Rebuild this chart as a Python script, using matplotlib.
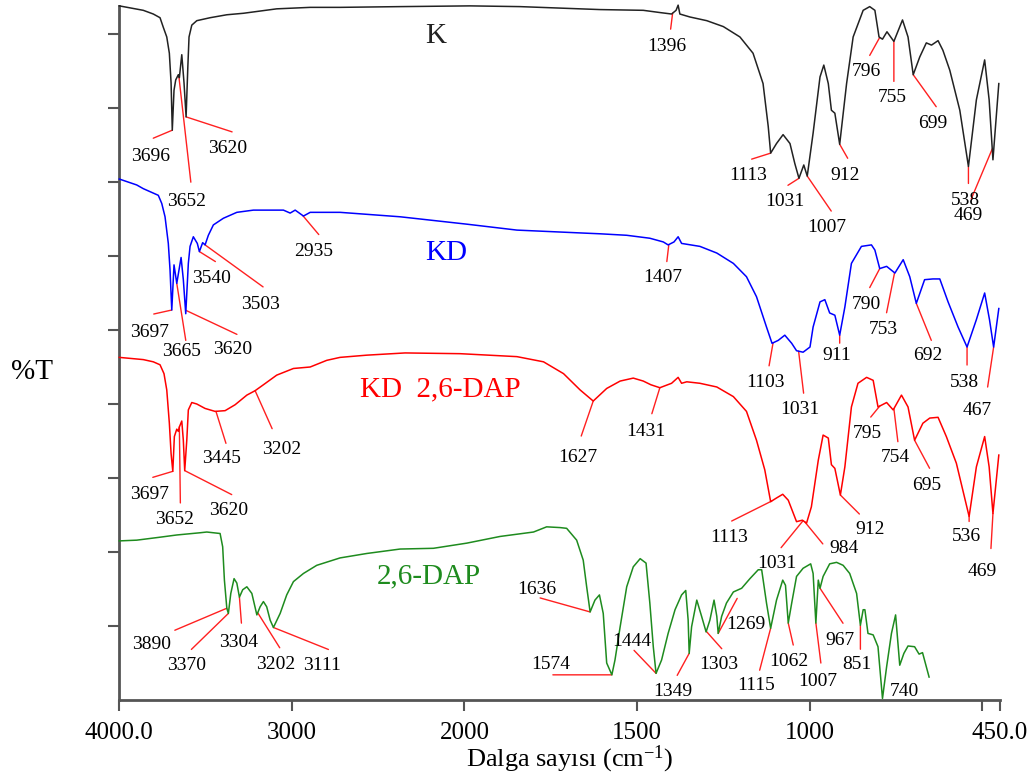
import numpy as np
import matplotlib
matplotlib.use('Agg')
import matplotlib.pyplot as plt

plt.rcParams['font.family'] = ['Liberation Serif', 'DejaVu Serif']
plt.rcParams['mathtext.fontset'] = 'custom'
plt.rcParams['mathtext.rm'] = 'Liberation Serif'
plt.rcParams['mathtext.it'] = 'Liberation Serif:italic'

# ---------------- data (wavenumber cm-1, %T with vertical offsets) ----------------
K_wn = [4000, 3861, 3803, 3764, 3745, 3725, 3710, 3700, 3693, 3683, 3673, 3658, 3652, 3638,
        3625, 3613, 3603, 3596, 3580, 3551, 3474, 3377, 3281, 3088, 2894, 2721, 2373, 1984,
        1839, 1723, 1607, 1482, 1434, 1400, 1387, 1381, 1376, 1347, 1298, 1250, 1202, 1164,
        1135, 1120, 1113, 1096, 1077, 1057, 1043, 1031, 1017, 1007, 990, 970, 959, 946, 937,
        927, 913, 893, 874, 845, 826, 811, 799, 789, 776, 756, 731, 715, 700, 681, 662, 647,
        628, 614, 594, 565, 540, 517, 493, 480, 469, 452]
K_T = [93.8, 93.2, 92.7, 92.2, 90.9, 89.6, 87.4, 83.4, 77.0, 82.4, 83.8, 84.5, 84.1, 87.2,
       83.4, 78.8, 85.5, 89.6, 91.2, 91.8, 92.2, 92.6, 92.8, 93.4, 93.6, 93.6, 93.7, 93.8,
       93.7, 93.5, 93.3, 93.2, 92.9, 92.7, 93.2, 93.9, 92.7, 92.3, 91.8, 91.0, 89.6, 87.4,
       83.3, 77.5, 73.9, 75.2, 76.4, 75.2, 72.5, 70.5, 72.3, 70.8, 76.6, 84.2, 85.8, 83.3, 79.7,
       79.3, 75.1, 83.3, 89.6, 93.2, 93.7, 93.2, 89.6, 89.3, 90.3, 89.0, 91.9, 89.6, 84.5, 86.9,
       88.8, 88.5, 89.1, 87.8, 85.1, 79.7, 72.1, 81.1, 86.5, 81.1, 73.0, 83.3]

KD_wn = [4000, 3899, 3861, 3803, 3774, 3754, 3735, 3716, 3706, 3696, 3683, 3667, 3642, 3629,
         3615, 3600, 3590, 3571, 3548, 3536, 3517, 3503, 3484, 3455, 3397, 3319, 3223, 3049,
         3010, 2981, 2933, 2894, 2721, 2373, 1993, 1848, 1656, 1607, 1530, 1463, 1424, 1410,
         1393, 1381, 1371, 1318, 1269, 1221, 1183, 1154, 1125, 1109, 1091, 1072, 1052, 1038,
         1019, 999, 990, 970, 956, 942, 927, 913, 898, 879, 850, 821, 811, 797, 777, 753, 729,
         710, 691, 667, 643, 623, 599, 570, 544, 517, 493, 479, 467, 452]
KD_T = [70.4, 69.6, 69.1, 68.5, 68.2, 67.1, 65.3, 61.7, 58.1, 52.7, 58.8, 56.3, 59.8, 56.8,
        52.2, 59.0, 61.3, 62.6, 61.7, 60.6, 61.8, 61.5, 62.8, 64.2, 65.1, 65.9, 66.2, 66.2,
        65.8, 66.2, 65.4, 65.9, 65.9, 65.3, 64.3, 63.5, 63.1, 63.0, 62.8, 62.4, 61.9, 61.5,
        61.9, 62.6, 61.7, 61.3, 60.4, 59.0, 57.2, 54.5, 50.4, 48.2, 48.6, 49.3, 48.2, 47.2,
        47.0, 47.7, 50.4, 53.8, 54.1, 52.3, 52.0, 49.3, 53.1, 59.0, 61.3, 61.5, 60.8, 58.3,
        58.6, 57.7, 59.5, 57.2, 53.6, 56.8, 56.9, 56.9, 53.8, 50.4, 47.7, 51.4, 55.0, 51.4,
        47.7, 52.9]

KDDAP_wn = [4000, 3861, 3803, 3764, 3741, 3725, 3710, 3700, 3690, 3681, 3667, 3658, 3652, 3638,
            3629, 3621, 3609, 3600, 3580, 3551, 3503, 3445, 3387, 3329, 3261, 3213, 3165, 3088,
            2991, 2894, 2798, 2721, 2566, 2344, 2025, 1848, 1771, 1713, 1665, 1627, 1588, 1549,
            1511, 1482, 1460, 1434, 1400, 1381, 1371, 1356, 1318, 1269, 1221, 1183, 1154, 1130,
            1113, 1096, 1078, 1062, 1038, 1021, 1009, 995, 975, 961, 946, 937, 927, 911, 898,
            879, 860, 835, 816, 802, 777, 758, 734, 715, 696, 672, 652, 628, 604, 575, 538, 517,
            493, 480, 469, 452]
KDDAP_T = [46.3, 46.0, 45.7, 45.3, 44.1, 41.9, 37.4, 33.3, 30.9, 35.6, 36.6, 36.3, 36.9, 37.7,
           35.1, 31.0, 35.1, 39.2, 40.2, 40.0, 39.4, 39.0, 39.1, 39.9, 41.2, 41.8, 42.6, 43.9,
           44.8, 45.0, 45.9, 46.3, 46.6, 46.9, 46.8, 46.4, 45.7, 44.1, 41.9, 40.4, 42.1, 43.1,
           43.5, 43.1, 42.6, 42.2, 42.8, 43.6, 42.8, 43.0, 42.8, 42.3, 41.0, 39.0, 35.1, 31.1,
           26.8, 27.3, 27.8, 27.0, 24.1, 24.3, 23.9, 26.1, 32.4, 35.8, 35.4, 31.8, 31.3, 27.7,
           31.5, 39.6, 42.8, 43.6, 43.2, 39.6, 40.2, 39.2, 41.2, 39.6, 35.1, 37.4, 38.1, 38.2,
           35.6, 32.0, 24.8, 31.5, 35.6, 31.5, 25.2, 33.1]

DAP_wn = [4000, 3899, 3764, 3667, 3532, 3493, 3416, 3401, 3391, 3377, 3368, 3354, 3335, 3319,
          3304, 3285, 3261, 3232, 3203, 3184, 3165, 3146, 3126, 3107, 3068, 3030, 2991, 2933,
          2856, 2721, 2566, 2373, 2180, 1993, 1897, 1800, 1762, 1723, 1704, 1675, 1656, 1646,
          1636, 1622, 1609, 1598, 1588, 1573, 1564, 1549, 1530, 1511, 1491, 1474, 1463, 1453,
          1445, 1429, 1410, 1390, 1371, 1359, 1352, 1349, 1342, 1327, 1313, 1300, 1289, 1277,
          1269, 1265, 1255, 1241, 1221, 1197, 1173, 1149, 1139, 1125, 1113, 1096, 1078, 1070,
          1062, 1052, 1038, 1019, 997, 990, 982, 975, 970, 961, 942, 922, 903, 884, 864, 853,
          845, 840, 831, 816, 802, 789, 777, 763, 751, 739, 727, 715, 696, 683, 673, 654]
DAP_T = [21.5, 21.6, 22.0, 22.3, 22.6, 22.7, 22.5, 20.7, 16.2, 12.4, 11.7, 14.4, 16.4, 15.8,
         13.9, 14.9, 15.3, 14.4, 11.5, 12.6, 13.3, 12.6, 10.8, 9.8, 11.7, 14.2, 16.0, 17.1,
         18.2, 19.2, 19.8, 20.4, 20.5, 21.2, 22.1, 22.7, 23.4, 23.3, 23.2, 21.6, 18.9, 15.3,
         11.9, 13.5, 14.2, 11.7, 5.0, 3.4, 5.4, 9.9, 15.3, 18.0, 19.1, 18.5, 13.1, 7.2,
         3.6, 5.4, 9.0, 12.2, 14.2, 14.8, 10.8, 6.3, 9.9, 13.5, 11.3, 9.2, 10.8, 13.5,
         11.3, 9.0, 11.3, 13.1, 14.6, 15.1, 16.4, 17.6, 17.6, 13.1, 9.7, 13.5, 16.2, 15.5,
         10.4, 13.1, 16.7, 17.8, 18.4, 17.1, 10.4, 16.2, 15.1, 16.7, 18.4, 18.6, 18.2, 17.1, 14.4, 10.1,
         12.2, 12.2, 9.0, 8.8, 7.2, 0.2, 4.5, 9.0, 11.5, 4.7, 6.3, 7.3, 7.2, 6.2, 6.4, 3.1]

series_names = ['K', 'KD', 'KD  2,6-DAP', '2,6-DAP']
series_colors = ['#222222', '#0000FF', '#FF0000', '#1E8B1E']

# peak labels: (text, wavenumber on the curve)
K_peaks = ['3696', '3652', '3620', '1396', '1113', '1031', '1007', '912', '796', '755', '699', '538', '469']
K_peak_wn = [3693, 3655, 3613, 1397, 1113, 1031, 1007, 913, 797, 756, 700, 540, 471]
KD_peaks = ['3697', '3665', '3620', '3540', '3503', '2935', '1407', '1103', '1031', '911', '790', '753', '692', '538', '467']
KD_peak_wn = [3696, 3667, 3614, 3536, 3503, 2937, 1408, 1106, 1032, 913, 797, 754, 691, 544, 467]
KDDAP_peaks = ['3697', '3652', '3620', '3445', '3202', '1627', '1431', '1113', '1031', '984', '912', '795', '754', '695', '536', '469']
KDDAP_peak_wn = [3690, 3652, 3621, 3440, 3213, 1627, 1434, 1110, 1019, 1014, 911, 797, 756, 696, 538, 469]
DAP_peaks = ['3890', '3370', '3304', '3202', '3111', '1636', '1574', '1444', '1349', '1303', '1269', '1115', '1062', '1007', '967', '851', '740']
DAP_peak_wn = [3377, 3368, 3304, 3198, 3107, 1636, 1573, 1445, 1349, 1301, 1265, 1113, 1062, 982, 970, 853, 789]

# ---------------- layout of the labels (pixel offsets: leader end, text centre) ----------------
K_lay = [(-19, -8, -22, -26), (12, -106, 8, -125), (46, -15, 42, -32), (-2, -16, -6, -33),
         (-19, -6, -22, -22), (-11, -7, -14, -23), (24, -35, 20, -51), (8, -14, 5, -31),
         (-10, -18, -13, -34), (0, -40, -2, -56), (23, -32, 20, -49), (0, -17, -3, -34),
         (-21, -50, -24, -67)]
KD_lay = [(-18, -4, -22, -22), (9, -57, 5, -68), (51, -24, 47, -39), (16, -10, 12, -27),
          (58, -42, 55, -60), (16, -19, 11, -36), (-2, -17, -6, -33), (-4, -23, -8, -40),
          (5, -42, 1, -58), (0, -8, -3, -20), (-10, -19, -13, -36), (-8, -40, -11, -57),
          (15, -37, 12, -52), (0, -18, -3, -35), (-6, -40, -16, -63)]
KDDAP_lay = [(-20, -6, -23, -23), (1, -76, -5, -93), (47, -24, 44, -40), (10, -32, 6, -47),
             (17, -38, 27, -59), (-12, -35, -15, -56), (-8, -26, -14, -44), (-40, -20, -43, -36),
             (-22, -27, -26, -43), (18, -22, 39, -27), (19, -19, 30, -34), (-9, -11, -12, -27),
             (4, -33, 1, -49), (15, -28, 12, -45), (0, -5, -3, -20), (-2, -35, -11, -58)]
DAP_lay = [(-52, -22, -75, -36), (-37, -36, -42, -52), (2, -26, -1, -45), (22, -35, 18, -52),
           (55, -22, 49, -38), (-50, 14, -53, 22), (-59, 0, -61, 10), (-22, 23, -24, 32),
           (-12, -22, -16, -38), (16, -18, 13, -34), (19, 35, 28, 9), (-11, -42, -15, -57),
           (5, -22, 1, -38), (5, -40, 2, -58), (23, -35, 20, -52), (0, -24, -4, -39),
           (0, 0, 22, 7)]
name_pos = [(2164, 89.7), (2106, 60.4), (2141, 42.0), (2209, 16.7)]

# ---------------- figure ----------------
W, H = 1027, 778
fig = plt.figure(figsize=(W / 100, H / 100), dpi=100)
ax = fig.add_axes([119.3 / W, 1 - 700 / H, 880.2 / W, 694 / H])


def fwd(w):
    w = np.asarray(w, dtype=float)
    return np.where(w >= 2000, w, 2 * w - 2000)


def inv(t):
    t = np.asarray(t, dtype=float)
    return np.where(t >= 2000, t, (t + 2000) / 2)


ax.set_xscale('function', functions=(fwd, inv))
ax.set_xlim(4000, 450)
ax.set_ylim(0, 694 / 7.4)

spectra = [(K_wn, K_T), (KD_wn, KD_T), (KDDAP_wn, KDDAP_T), (DAP_wn, DAP_T)]
peaks = [(K_peaks, K_peak_wn, K_lay), (KD_peaks, KD_peak_wn, KD_lay),
         (KDDAP_peaks, KDDAP_peak_wn, KDDAP_lay), (DAP_peaks, DAP_peak_wn, DAP_lay)]

for (wn, T), col, name, npos, (plab, pwn, lay) in zip(spectra, series_colors, series_names, name_pos, peaks):
    ax.plot(wn, T, color=col, lw=1.1, clip_on=False, zorder=3, solid_joinstyle='round')
    ax.text(npos[0], npos[1], name, color=col, fontsize=21, ha='center', va='center')
    for lab, w, (dx, dy, tx, ty) in zip(plab, pwn, lay):
        y = np.interp(w, wn[::-1], T[::-1])
        if dx != 0 or dy != 0:
            ax.annotate('', xy=(w, y), xytext=(dx, dy), textcoords='offset pixels',
                        arrowprops=dict(arrowstyle='-', color='#FF2020', lw=1.0,
                                        shrinkA=0, shrinkB=0), zorder=2)
        ax.annotate(lab, xy=(w, y), xytext=(tx, ty), textcoords='offset pixels',
                    ha='center', va='center', fontsize=14, color='black', zorder=4)

ax.set_xticks([4000, 3000, 2000, 1500, 1000, 500, 450])
ax.set_xticklabels(['4000.0', '3000', '2000', '1500', '1000', '', '450.0'])
ax.xaxis.set_minor_locator(matplotlib.ticker.NullLocator())
ax.set_yticks(np.arange(10, 91, 10))
ax.set_yticklabels([])
ax.tick_params(axis='both', direction='out', length=8, width=1.5, color='#555555')
ax.tick_params(axis='x', labelsize=18, pad=8)
for s in ['top', 'right']:
    ax.spines[s].set_visible(False)
for s in ['left', 'bottom']:
    ax.spines[s].set_color('#555555')
    ax.spines[s].set_linewidth(2)

fig.text(570 / W, 1 - 759 / H, 'Dalga sayısı (cm$^{-1}$)', fontsize=19, ha='center', va='center')
fig.text(31.7 / W, 1 - 372.5 / H, '%T', fontsize=21, ha='center', va='center')

fig.savefig('out.png', dpi=100)
